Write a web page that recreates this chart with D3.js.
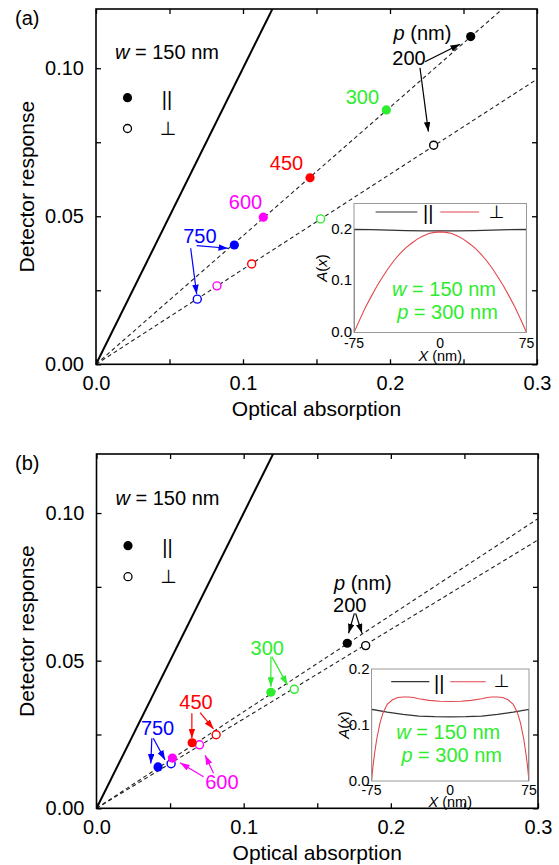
<!DOCTYPE html>
<html><head><meta charset="utf-8">
<script src="https://cdn.jsdelivr.net/npm/d3@7"></script>
<style>
body{margin:0;background:#fff}
svg{display:block}
text{font-family:"Liberation Sans",Arial,sans-serif;fill:#000}
</style>
</head><body>
<svg id="c" width="559" height="865"></svg>
<script>
// ---------------- data ----------------
const pitchLabels = ["200", "300", "450", "600", "750"];
const pitchColors = ["#000000", "#2eec2e", "#ff0000", "#ff00ff", "#0000ff"];

// panel (a)
const aParAbs   = [0.2549, 0.1975, 0.1456, 0.1138, 0.0941];
const aParResp  = [0.1107, 0.0859, 0.0630, 0.0497, 0.0403];
const aPerpAbs  = [0.2297, 0.1528, 0.1059, 0.0823, 0.0689];
const aPerpResp = [0.0740, 0.0491, 0.0339, 0.0265, 0.0220];
const aFitSlopes = [0.434, 0.321];

// panel (b)
const bParAbs   = [0.1704, 0.1185, 0.0650, 0.0516, 0.0418];
const bParResp  = [0.0559, 0.0393, 0.0222, 0.0170, 0.0140];
const bPerpAbs  = [0.1829, 0.1344, 0.0813, 0.0700, 0.0507];
const bPerpResp = [0.0551, 0.0403, 0.0249, 0.0215, 0.0151];
const bFitSlopes = [0.327, 0.303];

const idealSlope = 1.0;

// axes
const xDomain = [0, 0.3];
const yDomain = [0, 0.12];
const xTickVals = [0, 0.05, 0.1, 0.15, 0.2, 0.25, 0.3];
const xMajor = [0, 0.1, 0.2, 0.3];
const yTickVals = [0, 0.025, 0.05, 0.075, 0.1];
const yMajor = [0, 0.05, 0.1];

// insets: A(x) profiles
const insetXDomain = [-75, 75];
const insetXTicks = [-75, 0, 75];
const insetYTicks = [0, 0.1, 0.2];
const aInsetParX  = [-75, -75, -60, -45, -30, -15, 0, 15, 30, 45, 60, 75, 75];
const aInsetParY  = [0, 0.200, 0.1995, 0.1985, 0.1975, 0.197, 0.197, 0.197, 0.1975, 0.1985, 0.1995, 0.200, 0];
const aInsetPerpX = [-75, -70, -65, -60, -55, -50, -45, -40, -35, -30, -25, -20, -15, -10, -5, 0, 5, 10, 15, 20, 25, 30, 35, 40, 45, 50, 55, 60, 65, 70, 75];
const aInsetPerpY = [0, 0.025, 0.049, 0.070, 0.090, 0.108, 0.125, 0.140, 0.153, 0.164, 0.173, 0.181, 0.187, 0.192, 0.194, 0.195, 0.194, 0.192, 0.187, 0.181, 0.173, 0.164, 0.153, 0.140, 0.125, 0.108, 0.090, 0.070, 0.049, 0.025, 0];
const bInsetParX  = [-75, -75, -60, -45, -30, -15, 0, 15, 30, 45, 60, 75, 75];
const bInsetParY  = [0, 0.128, 0.123, 0.119, 0.116, 0.1148, 0.1145, 0.1148, 0.116, 0.119, 0.123, 0.128, 0];
const bInsetPerpX = [-75, -73.5, -72, -70, -67, -64, -60, -55, -50, -45, -40, -35, -30, -20, -10, 0, 10, 20, 30, 35, 40, 45, 50, 55, 60, 64, 67, 70, 72, 73.5, 75];
const bInsetPerpY = [0, 0.028, 0.050, 0.075, 0.103, 0.122, 0.137, 0.145, 0.149, 0.150, 0.150, 0.149, 0.147, 0.144, 0.1425, 0.142, 0.1425, 0.144, 0.147, 0.149, 0.150, 0.150, 0.149, 0.145, 0.137, 0.122, 0.103, 0.075, 0.050, 0.028, 0];

// annotations (data coordinates)
const aLabels = [
  {t: "200", x: 0.2129, y: 0.1035, c: "#000000"},
  {t: "300", x: 0.1812, y: 0.0903, c: "#2eec2e"},
  {t: "450", x: 0.1296, y: 0.0680, c: "#ff0000"},
  {t: "600", x: 0.1017, y: 0.0549, c: "#ff00ff"},
  {t: "750", x: 0.0707, y: 0.0433, c: "#0000ff"}
];
const aPLabel = {x: 0.2221, y: 0.1119};
const aArrows = [
  {x1: 0.2238, y1: 0.1022, x2: 0.2476, y2: 0.1081, c: "#000000"},
  {x1: 0.2204, y1: 0.1001, x2: 0.2261, y2: 0.0786, c: "#000000"},
  {x1: 0.0685, y1: 0.0401, x2: 0.0898, y2: 0.0392, c: "#0000ff"},
  {x1: 0.0644, y1: 0.0392, x2: 0.0685, y2: 0.0237, c: "#0000ff"}
];
const bLabels = [
  {t: "200", x: 0.1721, y: 0.0688, c: "#000000"},
  {t: "300", x: 0.1160, y: 0.0542, c: "#2eec2e"},
  {t: "450", x: 0.0676, y: 0.0361, c: "#ff0000"},
  {t: "600", x: 0.0852, y: 0.0090, c: "#ff00ff"},
  {t: "750", x: 0.0415, y: 0.0271, c: "#0000ff"}
];
const bPLabel = {x: 0.1810, y: 0.0762};
const bArrows = [
  {x1: 0.1752, y1: 0.0660, x2: 0.1713, y2: 0.0593, c: "#000000"},
  {x1: 0.1761, y1: 0.0660, x2: 0.1804, y2: 0.0593, c: "#000000"},
  {x1: 0.1185, y1: 0.0513, x2: 0.1185, y2: 0.0412, c: "#2eec2e"},
  {x1: 0.1192, y1: 0.0513, x2: 0.1298, y2: 0.0418, c: "#2eec2e"},
  {x1: 0.0648, y1: 0.0322, x2: 0.0648, y2: 0.0237, c: "#ff0000"},
  {x1: 0.0704, y1: 0.0324, x2: 0.0795, y2: 0.0269, c: "#ff0000"},
  {x1: 0.0376, y1: 0.0237, x2: 0.0369, y2: 0.0152, c: "#0000ff"},
  {x1: 0.0386, y1: 0.0237, x2: 0.0466, y2: 0.0164, c: "#0000ff"},
  {x1: 0.0727, y1: 0.0107, x2: 0.0568, y2: 0.0154, c: "#ff00ff"},
  {x1: 0.0795, y1: 0.0119, x2: 0.0738, y2: 0.0180, c: "#ff00ff"}
];

// ---------------- drawing ----------------
const svg = d3.select("#c");
const defs = svg.append("defs");
const markers = {};
function markerFor(color) {
  if (markers[color]) return markers[color];
  const id = "ah" + color.replace("#", "");
  defs.append("marker").attr("id", id)
    .attr("viewBox", "0 0 10 10").attr("refX", 10).attr("refY", 5)
    .attr("markerWidth", 9.5).attr("markerHeight", 6.5)
    .attr("markerUnits", "userSpaceOnUse").attr("orient", "auto")
    .attr("preserveAspectRatio", "none")
    .append("path").attr("d", "M0,0L10,5L0,10z").attr("fill", color);
  markers[color] = `url(#${id})`;
  return markers[color];
}

function drawPanel(cfg) {
  const g = svg.append("g");
  const x = d3.scaleLinear(xDomain, [cfg.left, cfg.right]);
  const y = d3.scaleLinear(yDomain, [cfg.bottom, cfg.top]);
  const clipId = "clip" + cfg.name;
  defs.append("clipPath").attr("id", clipId).append("rect")
    .attr("x", cfg.left).attr("y", cfg.top)
    .attr("width", cfg.right - cfg.left).attr("height", cfg.bottom - cfg.top);

  // axes (ticks inward)
  const fmtX = d3.format(".1f"), fmtY = d3.format(".2f");
  const isMaj = (arr, d) => arr.some(v => Math.abs(v - d) < 1e-9);
  const axB = g.append("g").attr("transform", `translate(0,${cfg.bottom})`)
    .call(d3.axisBottom(x).tickValues(xTickVals).tickSize(-5).tickPadding(12)
      .tickFormat(d => isMaj(xMajor, d) ? fmtX(d) : ""));
  const axT = g.append("g").attr("transform", `translate(0,${cfg.top})`)
    .call(d3.axisTop(x).tickValues(xTickVals).tickSize(-5).tickFormat(""));
  const axL = g.append("g").attr("transform", `translate(${cfg.left},0)`)
    .call(d3.axisLeft(y).tickValues(yTickVals).tickSize(-5).tickPadding(12)
      .tickFormat(d => isMaj(yMajor, d) ? fmtY(d) : ""));
  const axR = g.append("g").attr("transform", `translate(${cfg.right},0)`)
    .call(d3.axisRight(y).tickValues(yTickVals).tickSize(-5).tickFormat(""));
  [axB, axT, axL, axR].forEach(a => {
    a.select(".domain").remove();
    a.selectAll("line").attr("stroke", "#000").attr("stroke-width", 1.3);
    a.selectAll("text").attr("font-size", 20).attr("font-family", '"Liberation Sans",Arial,sans-serif').attr("fill", "#000");
  });

  const plot = g.append("g").attr("clip-path", `url(#${clipId})`);
  const lineXs = xDomain;
  plot.append("path")
    .attr("d", d3.line().x(d => x(d)).y(d => y(idealSlope * d))(lineXs))
    .attr("stroke", "#000").attr("stroke-width", 2).attr("fill", "none");
  cfg.slopes.forEach(k => {
    plot.append("path")
      .attr("d", d3.line().x(d => x(d)).y(d => y(k * d))(lineXs))
      .attr("stroke", "#222").attr("stroke-width", 1.1).attr("fill", "none")
      .attr("stroke-dasharray", "4,3");
  });

  cfg.arrows.forEach(a => {
    g.append("line")
      .attr("x1", x(a.x1)).attr("y1", y(a.y1)).attr("x2", x(a.x2)).attr("y2", y(a.y2))
      .attr("stroke", a.c).attr("stroke-width", 1.2)
      .attr("marker-end", markerFor(a.c));
  });

  cfg.perpAbs.forEach((v, i) => {
    g.append("circle").attr("cx", x(v)).attr("cy", y(cfg.perpResp[i])).attr("r", 4)
      .attr("fill", "#fff").attr("stroke", pitchColors[i]).attr("stroke-width", 1.4);
  });
  cfg.parAbs.forEach((v, i) => {
    g.append("circle").attr("cx", x(v)).attr("cy", y(cfg.parResp[i])).attr("r", 4.6)
      .attr("fill", pitchColors[i]);
  });

  cfg.labels.forEach(l => {
    g.append("text").attr("x", x(l.x)).attr("y", y(l.y))
      .attr("text-anchor", "middle").attr("dominant-baseline", "central")
      .attr("font-size", 20).style("fill", l.c).text(l.t);
  });
  const pt = g.append("text").attr("x", x(cfg.pLabel.x)).attr("y", y(cfg.pLabel.y))
    .attr("text-anchor", "middle").attr("dominant-baseline", "central").attr("font-size", 20);
  pt.append("tspan").attr("font-style", "italic").text("p");
  pt.append("tspan").text(" (nm)");

  g.append("rect").attr("x", cfg.left).attr("y", cfg.top)
    .attr("width", cfg.right - cfg.left).attr("height", cfg.bottom - cfg.top)
    .attr("fill", "none").attr("stroke", "#000").attr("stroke-width", 1.6);

  g.append("text").attr("x", 15).attr("y", cfg.top + cfg.tagDy)
    .attr("dominant-baseline", "central").attr("font-size", 20).text(cfg.tag);

  const wt = g.append("text").attr("x", cfg.left + 19).attr("y", cfg.top + cfg.wDy)
    .attr("dominant-baseline", "central").attr("font-size", 20);
  wt.append("tspan").attr("font-style", "italic").text("w");
  wt.append("tspan").text(" = 150 nm");

  g.append("circle").attr("cx", cfg.left + 31.5).attr("cy", cfg.top + cfg.leg1Dy).attr("r", 4.6).attr("fill", "#000");
  g.append("circle").attr("cx", cfg.left + 31.5).attr("cy", cfg.top + cfg.leg2Dy).attr("r", 4).attr("fill", "#fff").attr("stroke", "#000").attr("stroke-width", 1.3);
  g.append("text").attr("x", cfg.left + 71).attr("y", cfg.top + cfg.leg1Dy + 1)
    .attr("text-anchor", "middle").attr("dominant-baseline", "central")
    .attr("font-size", 20).text("||");
  g.append("text").attr("x", cfg.left + 72).attr("y", cfg.top + cfg.leg2Dy - 1)
    .attr("text-anchor", "middle").attr("dominant-baseline", "central")
    .attr("font-size", 19).style("font-family", '"DejaVu Sans",sans-serif').text("⊥");

  g.append("text").attr("x", (cfg.left + cfg.right) / 2).attr("y", cfg.bottom + 44.5)
    .attr("text-anchor", "middle").attr("dominant-baseline", "central")
    .attr("font-size", 21).text("Optical absorption");
  g.append("text").attr("transform", `translate(26,${(cfg.top + cfg.bottom) / 2}) rotate(-90)`)
    .attr("text-anchor", "middle").attr("dominant-baseline", "central")
    .attr("font-size", 21).text("Detector response");

  drawInset(cfg.inset, cfg.name);
}

function drawInset(ic, name) {
  const g = svg.append("g");
  const x = d3.scaleLinear(insetXDomain, [ic.left, ic.right]);
  const y = d3.scaleLinear([0, ic.ymax], [ic.bottom, ic.top]);
  const clipId = "iclip" + name;
  defs.append("clipPath").attr("id", clipId).append("rect")
    .attr("x", ic.left).attr("y", ic.top)
    .attr("width", ic.right - ic.left).attr("height", ic.bottom - ic.top);
  g.append("rect").attr("x", ic.left).attr("y", ic.top)
    .attr("width", ic.right - ic.left).attr("height", ic.bottom - ic.top)
    .attr("fill", "#fff");

  const pl = g.append("g").attr("clip-path", `url(#${clipId})`);
  const line = d3.line().x(d => x(d[0])).y(d => y(d[1]));
  pl.append("path").attr("d", line(ic.parX.map((v, i) => [v, ic.parY[i]])))
    .attr("fill", "none").attr("stroke", "#333").attr("stroke-width", 1.2);
  pl.append("path").attr("d", line(ic.perpX.map((v, i) => [v, ic.perpY[i]])))
    .attr("fill", "none").attr("stroke", "#e0474c").attr("stroke-width", 1.1);

  g.append("rect").attr("x", ic.left).attr("y", ic.top)
    .attr("width", ic.right - ic.left).attr("height", ic.bottom - ic.top)
    .attr("fill", "none").attr("stroke", "#999").attr("stroke-width", 1);

  const fmtY = d3.format(".1f");
  insetYTicks.forEach(v => {
    g.append("text").attr("x", ic.left - 2).attr("y", y(v) - 1)
      .attr("text-anchor", "end").attr("dominant-baseline", "central")
      .attr("font-size", 15).text(fmtY(v));
  });
  insetXTicks.forEach(v => {
    g.append("text").attr("x", x(v)).attr("y", ic.bottom + ic.xlabDy)
      .attr("text-anchor", "middle").attr("dominant-baseline", "central")
      .attr("font-size", 14).text(v);
  });
  const xt = g.append("text").attr("x", (ic.left + ic.right) / 2).attr("y", ic.bottom + ic.xtitleDy)
    .attr("text-anchor", "middle").attr("dominant-baseline", "central").attr("font-size", 14.5);
  xt.append("tspan").attr("font-style", "italic").text("X");
  xt.append("tspan").text(" (nm)");
  const yt = g.append("text")
    .attr("transform", `translate(${ic.left - ic.ytitleDx},${(ic.top + ic.bottom) / 2}) rotate(-90)`)
    .attr("text-anchor", "middle").attr("dominant-baseline", "central").attr("font-size", 15);
  yt.append("tspan").attr("font-style", "italic").text("A");
  yt.append("tspan").text("(");
  yt.append("tspan").attr("font-style", "italic").text("x");
  yt.append("tspan").text(")");

  const w = ic.right - ic.left, ly = ic.top + ic.legDy;
  g.append("line").attr("x1", ic.left + 0.125 * w).attr("x2", ic.left + 0.367 * w)
    .attr("y1", ly).attr("y2", ly).attr("stroke", "#333").attr("stroke-width", 1.2);
  g.append("text").attr("x", ic.left + 0.43 * w).attr("y", ly + 1)
    .attr("text-anchor", "middle").attr("dominant-baseline", "central").attr("font-size", 20).text("||");
  g.append("line").attr("x1", ic.left + 0.50 * w).attr("x2", ic.left + 0.725 * w)
    .attr("y1", ly).attr("y2", ly).attr("stroke", "#e0474c").attr("stroke-width", 1.1);
  g.append("text").attr("x", ic.left + 0.826 * w).attr("y", ly - 1)
    .attr("text-anchor", "middle").attr("dominant-baseline", "central").attr("font-size", 18)
    .style("font-family", '"DejaVu Sans",sans-serif').text("⊥");

  const t1 = g.append("text").attr("x", ic.left + ic.wDx).attr("y", ic.top + ic.wDy)
    .attr("text-anchor", "middle").attr("dominant-baseline", "central").attr("font-size", 20).style("fill", "#2eec2e");
  t1.append("tspan").attr("font-style", "italic").text("w");
  t1.append("tspan").text(" = 150 nm");
  const t2 = g.append("text").attr("x", ic.left + ic.pDx).attr("y", ic.top + ic.pDy)
    .attr("text-anchor", "middle").attr("dominant-baseline", "central").attr("font-size", 20).style("fill", "#2eec2e");
  t2.append("tspan").attr("font-style", "italic").text("p");
  t2.append("tspan").text(" = 300 nm");
}

drawPanel({
  name: "a", tag: "(a)", left: 96, right: 537, top: 9, bottom: 364.3,
  tagDy: 9, wDy: 43, leg1Dy: 88.7, leg2Dy: 119.5,
  slopes: aFitSlopes,
  parAbs: aParAbs, parResp: aParResp, perpAbs: aPerpAbs, perpResp: aPerpResp,
  labels: aLabels, pLabel: aPLabel, arrows: aArrows,
  inset: {left: 354, right: 526.5, top: 203.5, bottom: 332.5, ymax: 0.25,
    parX: aInsetParX, parY: aInsetParY, perpX: aInsetPerpX, perpY: aInsetPerpY,
    xlabDy: 10.5, xtitleDy: 23, ytitleDx: 33, legDy: 8.5,
    wDx: 90, wDy: 85, pDx: 93.5, pDy: 108.2}
});
drawPanel({
  name: "b", tag: "(b)", left: 96.5, right: 538, top: 454, bottom: 808.3,
  tagDy: 9.3, wDy: 44.3, leg1Dy: 91.7, leg2Dy: 122.7,
  slopes: bFitSlopes,
  parAbs: bParAbs, parResp: bParResp, perpAbs: bPerpAbs, perpResp: bPerpResp,
  labels: bLabels, pLabel: bPLabel, arrows: bArrows,
  inset: {left: 371.5, right: 529, top: 669, bottom: 781, ymax: 0.2,
    parX: bInsetParX, parY: bInsetParY, perpX: bInsetPerpX, perpY: bInsetPerpY,
    xlabDy: 9, xtitleDy: 20.5, ytitleDx: 29, legDy: 12.7,
    wDx: 76.8, wDy: 62.7, pDx: 80.2, pDy: 86}
});
</script>
</body></html>
